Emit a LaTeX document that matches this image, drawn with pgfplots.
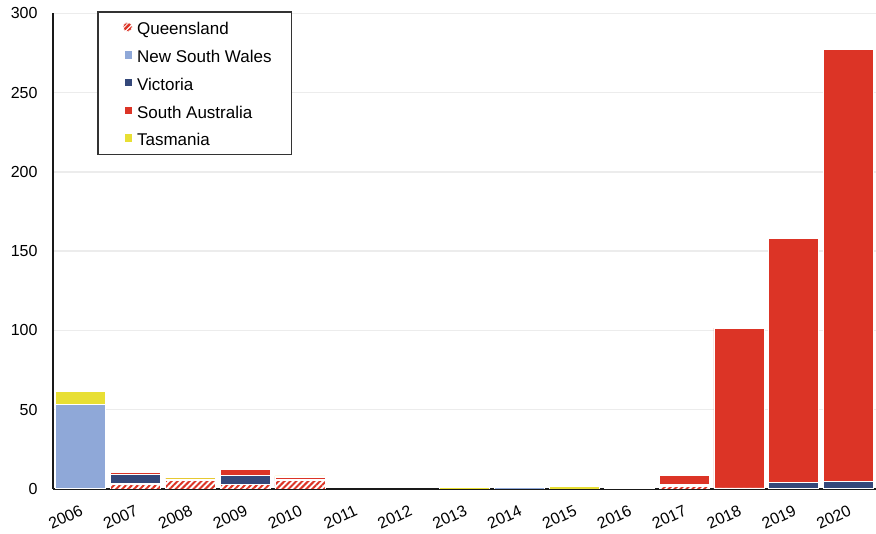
\documentclass[border=0pt]{standalone}
\usepackage{fontspec}
\setmainfont{Liberation Sans}
\usepackage{pgfplots}
\usepackage{pgfplotstable}
\pgfplotsset{compat=1.18}
\usetikzlibrary{patterns.meta}

\definecolor{qldred}{RGB}{220,52,38}
\definecolor{nswblue}{RGB}{143,168,216}
\definecolor{vicnavy}{RGB}{52,72,122}
\definecolor{sared}{RGB}{220,52,38}
\definecolor{tasyellow}{RGB}{232,223,52}
\definecolor{gridgray}{RGB}{236,236,236}

% grid below the bars, axis lines above them
\pgfplotsset{
  layers/gridbelow/.define layer set={
    axis background,axis grid,pre main,main,axis ticks,axis lines,
    axis tick labels,axis descriptions,axis foreground
  }{},
}

% fixed-size box for every legend image, so all rows line up
\newcommand{\legendbox}{%
  \pgfpathrectangle{\pgfpoint{-19pt}{0pt}}{\pgfpoint{26.3pt}{10pt}}%
  \pgfusepath{use as bounding box}%
}

% Annual additions by state (index 0 = 2006 ... 14 = 2020)
\pgfplotstableread{
x   qld  nsw   vic  sa     tas
0   0.6  53.0  0.0  0.0    8.0
1   3.0  0.3   5.7  1.3    0.0
2   5.2  0.0   0.0  1.2    1.0
3   2.8  0.0   5.7  4.1    0.0
4   5.3  1.0   0.0  1.0    1.0
5   0.0  0.0   0.0  0.0    0.0
6   0.0  0.0   0.0  0.0    0.0
7   0.0  0.0   0.0  0.0    0.8
8   0.0  0.8   0.0  0.0    0.0
9   0.0  0.0   0.0  0.0    1.8
10  0.5  0.0   0.0  0.0    0.0
11  1.6  0.7   0.7  5.8    0.0
12  0.7  0.0   0.0  100.7  0.0
13  0.0  0.6   3.8  153.8  0.0
14  0.0  0.3   4.5  272.6  0.0
}\statedata

\begin{document}
\begin{tikzpicture}
\begin{axis}[
  name=ax,
  set layers=gridbelow,
  scale only axis,
  width=823pt, height=475.6pt,
  ybar stacked,
  bar width=0.91,
  xmin=-0.5, xmax=14.5,
  ymin=0, ymax=300,
  xtick={0,...,14},
  xticklabels={2006,2007,2008,2009,2010,2011,2012,2013,2014,2015,2016,2017,2018,2019,2020},
  ytick={0,50,...,300},
  ymajorgrids,
  grid style={draw=gridgray, line width=1.5pt},
  axis x line*=bottom,
  axis y line*=left,
  axis line style={line width=2pt, black!90, -},
  major tick length=0pt,
  /pgf/number format/assume math mode=true,
  tick label style={font=\fontsize{16}{18}\selectfont},
  yticklabel style={xshift=-12pt},
  x tick label style={rotate=25, anchor=north east, xshift=-4pt, yshift=-10pt},
  every axis plot/.append style={draw=white, line width=0.6pt},
  legend style={
    at={(0.0535,1.004)}, anchor=north west,
    draw=black!80, line width=1.5pt,
    fill=white,
    inner xsep=8pt, inner ysep=6.2pt,
    row sep=8.7pt, column sep=4pt,
    font=\fontsize{17}{19}\selectfont,
    nodes={inner sep=1pt, text height=14.5pt, text depth=1.5pt},
  },
  legend cell align=left,
  legend image code/.code={%
    \legendbox
    \fill[#1, draw=none] (0pt,-2.5pt) rectangle (7.3pt,4.8pt);
  },
]
\addplot[fill=white, postaction={pattern={Lines[angle=45, distance=4.2pt, line width=2pt]}, pattern color=qldred},
  legend image code/.code={%
    \legendbox
    \fill[white, draw=none] (2.8pt,1.5pt) circle (4.6pt);
    \fill[draw=none, pattern={Lines[angle=45, distance=3.4pt, line width=1.8pt]}, pattern color=qldred] (2.8pt,1.5pt) circle (4.6pt);
  }] table[x=x, y=qld] {\statedata};
\addlegendentry{Queensland}
\addplot[fill=nswblue] table[x=x, y=nsw] {\statedata};
\addlegendentry{New South Wales\hspace*{11pt}}
\addplot[fill=vicnavy] table[x=x, y=vic] {\statedata};
\addlegendentry{Victoria}
\addplot[fill=sared] table[x=x, y=sa] {\statedata};
\addlegendentry{South Australia}
\addplot[fill=tasyellow] table[x=x, y=tas] {\statedata};
\addlegendentry{Tasmania}
\end{axis}
\pgfresetboundingbox
\path[use as bounding box] ([xshift=-53pt,yshift=-45pt]ax.south west) rectangle ([yshift=13.4pt]ax.north east);
\end{tikzpicture}
\end{document}
